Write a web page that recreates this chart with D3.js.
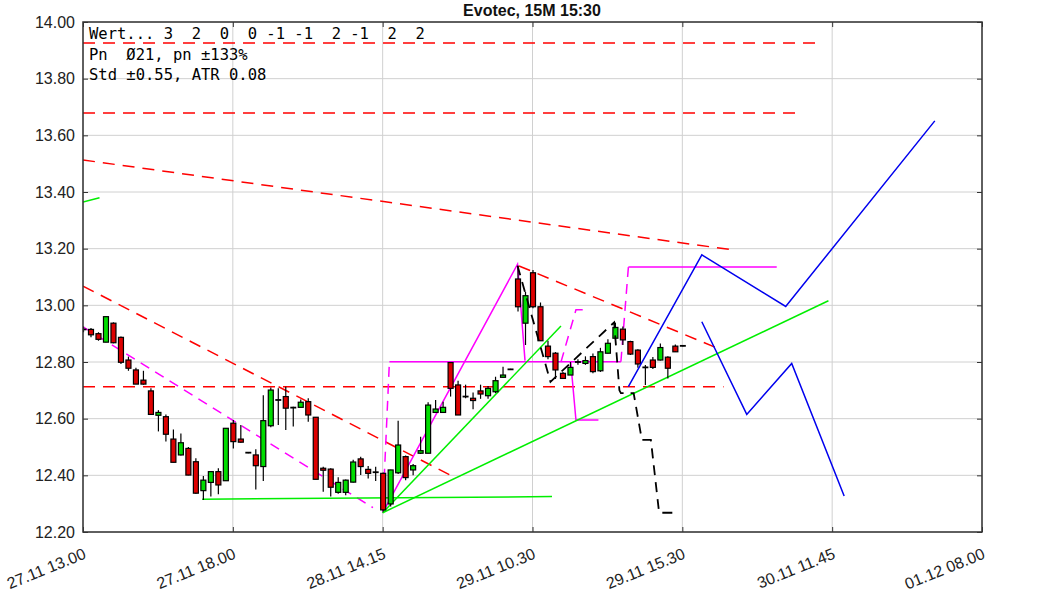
<!DOCTYPE html>
<html><head><meta charset="utf-8">
<script src="https://cdn.jsdelivr.net/npm/d3@7"></script>
<style>body{margin:0;background:#fff}svg{display:block}</style>
</head><body>
<svg id="c" width="1063" height="591"></svg>
<script>
// ---- data ----
const title = "Evotec, 15M 15:30";
const infoLines = ["Wert... 3  2  0  0 -1 -1  2 -1  2  2", "Pn  \u00d821, pn \u00b1133%", "Std \u00b10.55, ATR 0.08"];
const xTickIdx = [0, 20, 40, 60, 80, 100, 120];
const xTickLabels = ["27.11 13.00", "27.11 18.00", "28.11 14.15", "29.11 10.30", "29.11 15.30", "30.11 11.45", "01.12 08.00"];
const yTicks = [12.2, 12.4, 12.6, 12.8, 13.0, 13.2, 13.4, 13.6, 13.8, 14.0];
const opens  = [12.915,12.915,12.900,12.870,12.937,12.887,12.807,12.772,12.736,12.698,
                12.612,12.607,12.528,12.472,12.495,12.448,12.346,12.375,12.413,12.381,
                12.584,12.528,12.480,12.472,12.431,12.575,12.666,12.678,12.639,12.640,
                12.660,12.605,12.425,12.422,12.340,12.340,12.376,12.458,12.421,12.411,
                12.407,12.299,12.409,12.466,12.419,12.478,12.478,12.622,12.622,12.798,
                12.719,12.678,12.672,12.698,12.681,12.695,12.746,12.774,13.093,12.937,
                13.115,12.995,12.856,12.831,12.760,12.754,12.800,12.795,12.819,12.769,
                12.831,12.884,12.916,12.872,12.842,12.781,12.807,12.807,12.817,12.856,12.857];
const highs  = [12.925,12.920,12.905,12.960,12.940,12.890,12.819,12.780,12.769,12.707,
                12.630,12.615,12.562,12.548,12.500,12.460,12.398,12.413,12.425,12.566,
                12.595,12.578,12.482,12.492,12.683,12.710,12.707,12.713,12.642,12.668,
                12.672,12.605,12.430,12.425,12.393,12.385,12.455,12.466,12.433,12.430,
                12.410,12.420,12.593,12.470,12.440,12.536,12.658,12.666,12.660,12.800,
                12.734,12.720,12.692,12.720,12.715,12.748,12.783,12.776,13.140,13.048,
                13.125,13.010,12.875,12.835,12.765,12.800,12.810,12.820,12.830,12.850,
                12.880,12.939,12.925,12.875,12.845,12.789,12.818,12.865,12.820,12.862,12.859];
const lows   = [12.905,12.887,12.875,12.870,12.866,12.793,12.769,12.722,12.720,12.615,
                12.555,12.519,12.446,12.470,12.400,12.335,12.313,12.325,12.333,12.380,
                12.495,12.515,12.478,12.350,12.380,12.570,12.578,12.560,12.572,12.640,
                12.589,12.386,12.342,12.325,12.335,12.330,12.375,12.401,12.389,12.380,
                12.272,12.290,12.405,12.383,12.400,12.475,12.478,12.620,12.620,12.678,
                12.613,12.672,12.633,12.670,12.670,12.690,12.745,12.772,12.978,12.860,
                12.990,12.875,12.810,12.740,12.740,12.754,12.790,12.790,12.760,12.765,
                12.830,12.880,12.860,12.825,12.780,12.719,12.775,12.805,12.742,12.835,12.855];
const closes = [12.915,12.896,12.880,12.960,12.868,12.799,12.778,12.722,12.722,12.615,
                12.622,12.545,12.446,12.515,12.401,12.337,12.383,12.413,12.366,12.566,
                12.519,12.517,12.480,12.434,12.593,12.701,12.666,12.637,12.639,12.658,
                12.613,12.386,12.418,12.358,12.375,12.383,12.447,12.431,12.407,12.411,
                12.278,12.419,12.507,12.392,12.434,12.487,12.648,12.634,12.640,12.707,
                12.613,12.678,12.664,12.687,12.707,12.734,12.754,12.774,12.995,13.034,
                12.995,12.875,12.819,12.772,12.742,12.781,12.800,12.805,12.766,12.836,
                12.866,12.922,12.878,12.828,12.793,12.781,12.781,12.851,12.778,12.836,12.857];

// overlay lines: [index, price] points
const redDashed = [
  [[0, 13.926], [97.8, 13.926]],
  [[0, 13.679], [95.5, 13.679]],
  [[0, 12.713], [85.5, 12.713]],
  [[0, 13.513], [86.9, 13.195]],
  [[0, 13.068], [49.5, 12.394]],
  [[58.2, 13.139], [84.4, 12.852]]
];
const magentaDashed = [
  [[0, 12.924], [38.7, 12.286]],
  [[40, 12.268], [40.9, 12.801]],
  [[63.8, 12.80], [65.8, 12.984], [66.9, 12.984]],
  [[71.8, 12.801], [72.8, 13.135]]
];
const magentaSolid = [
  [[40, 12.268], [58, 13.145], [59, 12.805]],
  [[40.9, 12.801], [71.8, 12.801]],
  [[65.1, 12.801], [65.8, 12.595], [68.8, 12.595]],
  [[72.8, 13.135], [92.6, 13.135]]
];
const blackDashed = [
  [[58, 13.14], [62.4, 12.73], [70.9, 12.94], [71.6, 12.70], [71.8, 12.69], [73.5, 12.69],
   [74.6, 12.525], [75.8, 12.525], [76.9, 12.268], [78.9, 12.268]]
];
const greenSolid = [
  [[0, 13.365], [2.2, 13.38]],
  [[15.9, 12.316], [62.6, 12.325]],
  [[40, 12.268], [63.8, 12.927]],
  [[40, 12.268], [99.5, 13.016]]
];
const blueSolid = [
  [[72.8, 12.713], [82.6, 13.178], [93.8, 12.996], [113.7, 13.651]],
  [[82.6, 12.942], [88.6, 12.615], [94.6, 12.795], [101.6, 12.327]]
];

// ---- drawing ----
const svg = d3.select("#c");
const L = 83, R = 982, T = 22, B = 532;
const x = d3.scaleLinear().domain([0, 120]).range([L, R]);
const y = d3.scaleLinear().domain([12.2, 14.0]).range([B, T]);

// gridlines
svg.append("g").selectAll("line").data(yTicks).join("line")
  .attr("x1", L).attr("x2", R).attr("y1", d => y(d)).attr("y2", d => y(d))
  .attr("stroke", "#d0d0d0").attr("stroke-width", 1);
svg.append("g").selectAll("line").data(xTickIdx).join("line")
  .attr("y1", T).attr("y2", B).attr("x1", d => x(d)).attr("x2", d => x(d))
  .attr("stroke", "#d0d0d0").attr("stroke-width", 1);

svg.append("defs").append("clipPath").attr("id", "clip")
  .append("rect").attr("x", L).attr("y", T).attr("width", R - L).attr("height", B - T);
const plot = svg.append("g").attr("clip-path", "url(#clip)");

const line = d3.line().x(d => x(d[0])).y(d => y(d[1]));
function drawLines(data, color, dash, w) {
  plot.append("g").selectAll("path").data(data).join("path")
    .attr("d", line).attr("fill", "none").attr("stroke", color)
    .attr("stroke-width", w).attr("stroke-dasharray", dash);
}
drawLines(redDashed, "#ff0000", "12,8", 1.5);
drawLines(magentaDashed, "#ff00ff", "10,7", 1.5);
drawLines(magentaSolid, "#ff00ff", null, 1.5);
drawLines(greenSolid, "#00ee00", null, 1.5);

// candles
const idx = d3.range(opens.length);
const cg = plot.append("g");
const bw = 5;
cg.selectAll("line.w").data(idx).join("line").attr("class", "w")
  .attr("x1", i => x(i) + 0.5).attr("x2", i => x(i) + 0.5)
  .attr("y1", i => y(highs[i])).attr("y2", i => y(lows[i]))
  .attr("stroke", "#000").attr("stroke-width", 1.2);
cg.selectAll("rect").data(idx.filter(i => Math.abs(opens[i] - closes[i]) > 0.0005)).join("rect")
  .attr("x", i => x(i) + 0.5 - bw / 2)
  .attr("y", i => y(Math.max(opens[i], closes[i])))
  .attr("width", bw)
  .attr("height", i => Math.max(1, Math.abs(y(opens[i]) - y(closes[i]))))
  .attr("fill", i => closes[i] > opens[i] ? "#00dd00" : "#dd0000")
  .attr("stroke", "#000").attr("stroke-width", 1.2);
cg.selectAll("line.d").data(idx.filter(i => Math.abs(opens[i] - closes[i]) <= 0.0005)).join("line").attr("class", "d")
  .attr("x1", i => x(i) + 0.5 - bw / 2 - 0.5).attr("x2", i => x(i) + 0.5 + bw / 2 + 0.5)
  .attr("y1", i => y(closes[i])).attr("y2", i => y(closes[i]))
  .attr("stroke", "#000").attr("stroke-width", 1.8);

drawLines(blackDashed, "#000", "10,7", 1.8);
drawLines(blueSolid, "#0000ee", null, 1.5);

// axes frame
const frame = svg.append("g");
frame.append("rect").attr("x", L).attr("y", T).attr("width", R - L).attr("height", B - T)
  .attr("fill", "none").attr("stroke", "#333").attr("stroke-width", 1.5);

const yAxisL = d3.axisLeft(y).tickValues(yTicks).tickFormat(d3.format(".2f")).tickSizeInner(-5).tickSizeOuter(0).tickPadding(8);
const gy = svg.append("g").attr("transform", `translate(${L},0)`).call(yAxisL);
gy.select(".domain").remove();
gy.selectAll("text").attr("font-family", "Liberation Sans, Arial, sans-serif").attr("font-size", 16).attr("fill", "#222");
gy.selectAll("line").attr("stroke", "#333");
const gyR = svg.append("g").attr("transform", `translate(${R},0)`)
  .call(d3.axisRight(y).tickValues(yTicks).tickSizeInner(-5).tickSizeOuter(0).tickFormat(""));
gyR.select(".domain").remove(); gyR.selectAll("line").attr("stroke", "#333");

const xAxisB = d3.axisBottom(x).tickValues(xTickIdx).tickSizeInner(-5).tickSizeOuter(0).tickFormat("");
const gx = svg.append("g").attr("transform", `translate(0,${B})`).call(xAxisB);
gx.select(".domain").remove(); gx.selectAll("line").attr("stroke", "#333");
const gxT = svg.append("g").attr("transform", `translate(0,${T})`)
  .call(d3.axisTop(x).tickValues(xTickIdx).tickSizeInner(-5).tickSizeOuter(0).tickFormat(""));
gxT.select(".domain").remove(); gxT.selectAll("line").attr("stroke", "#333");

svg.append("g").selectAll("text").data(xTickIdx).join("text")
  .attr("transform", d => `translate(${x(d) + 4},${B + 26}) rotate(-22)`)
  .attr("text-anchor", "end")
  .attr("font-family", "Liberation Sans, Arial, sans-serif").attr("font-size", 16).attr("fill", "#222")
  .text((d, i) => xTickLabels[i]);

// title
svg.append("text").attr("x", 532).attr("y", 16).attr("text-anchor", "middle")
  .attr("font-family", "Liberation Sans, Arial, sans-serif").attr("font-weight", "bold")
  .attr("font-size", 16).attr("fill", "#111").text(title);

// info text
svg.append("g").selectAll("text").data(infoLines).join("text")
  .attr("x", 89).attr("y", (d, i) => 39 + i * 20.5)
  .attr("font-family", "DejaVu Sans Mono, monospace").attr("font-size", 15.5).attr("fill", "#000")
  .attr("xml:space", "preserve").style("white-space", "pre")
  .text(d => d);
</script>
</body></html>
